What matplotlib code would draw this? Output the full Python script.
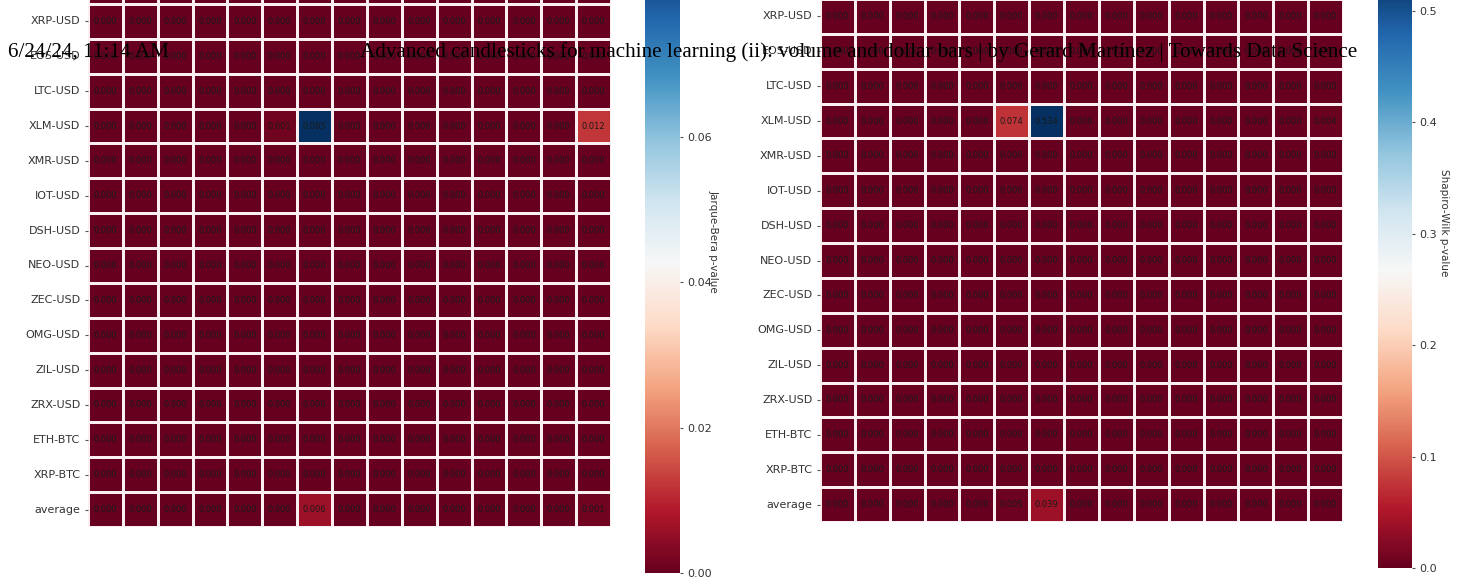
import numpy as np
import pandas as pd
import matplotlib
matplotlib.use('Agg')
import matplotlib.pyplot as plt
from matplotlib.ticker import MultipleLocator
import seaborn as sns

rows = ['BTC-USD', 'XRP-USD', 'EOS-USD', 'LTC-USD', 'XLM-USD', 'XMR-USD', 'IOT-USD',
        'DSH-USD', 'NEO-USD', 'ZEC-USD', 'OMG-USD', 'ZIL-USD', 'ZRX-USD',
        'ETH-BTC', 'XRP-BTC', 'average']
cols = [str(c) for c in range(1, 16)]

# Jarque-Bera p-values (most cells read 0.000)
jb_btc = [0.000] * 15
jb_zero = [0.000] * 15
jb_xlm = [0.000, 0.000, 0.000, 0.000, 0.000, 0.001, 0.085, 0.000, 0.000, 0.000,
          0.000, 0.000, 0.000, 0.000, 0.012]
jb_avg = [0.000, 0.000, 0.000, 0.000, 0.000, 0.000, 0.006, 0.000, 0.000, 0.000,
          0.000, 0.000, 0.000, 0.000, 0.001]

# Shapiro-Wilk p-values
sw_btc = [0.000] * 15
sw_zero = [0.000] * 15
sw_xlm = [0.000, 0.000, 0.000, 0.000, 0.000, 0.074, 0.534, 0.000, 0.000, 0.000,
          0.000, 0.000, 0.000, 0.000, 0.004]
sw_avg = [0.000, 0.000, 0.000, 0.000, 0.000, 0.005, 0.039, 0.000, 0.000, 0.000,
          0.000, 0.000, 0.000, 0.000, 0.000]

jb = pd.DataFrame([jb_btc, jb_zero, jb_zero, jb_zero, jb_xlm] + [jb_zero] * 10 + [jb_avg],
                  index=rows, columns=cols)
sw = pd.DataFrame([sw_btc, sw_zero, sw_zero, sw_zero, sw_xlm] + [sw_zero] * 10 + [sw_avg],
                  index=rows, columns=cols)

W, H = 1466, 582
fig = plt.figure(figsize=(W / 100, H / 100), dpi=100)


def px_box(x0, x1, ybot, ytop):
    return [x0 / W, (H - ybot) / H, (x1 - x0) / W, (ybot - ytop) / H]


n = len(rows)
cell = 523 / 15

# left heatmap
ax1 = fig.add_axes(px_box(88, 611, 527, 527 - n * cell))
cax1 = fig.add_axes(px_box(645, 680, 573, 573 - jb.values.max() * 7275))
# right heatmap
ax2 = fig.add_axes(px_box(820, 1343, 522, 522 - n * cell))
cax2 = fig.add_axes(px_box(1378, 1412, 568, 568 - sw.values.max() * 1114))

for ax, cax, df, lab, ly, step in [(ax1, cax1, jb, 'Jarque-Bera p-value', 0.536, 0.02),
                                    (ax2, cax2, sw, 'Shapiro-Wilk p-value', 0.58, 0.1)]:
    sns.heatmap(df, ax=ax, cbar_ax=cax, cmap='RdBu', linewidths=1.0, linecolor='#fbeff2',
                annot=True, fmt='.3f', annot_kws={'size': 6, 'color': '#1a1a1a'})
    ax.xaxis.tick_top()
    ax.set_xticklabels([])
    ax.tick_params(axis='x', length=0)
    ax.tick_params(axis='y', length=2, colors='#555555', labelsize=8, labelcolor='#333333')
    ax.set_yticklabels(rows, rotation=0)
    ax.set_xlabel('')
    ax.set_ylabel('')
    cax.yaxis.set_major_locator(MultipleLocator(step))
    cax.tick_params(labelsize=8, length=2, colors='#555555', labelcolor='#333333')
    cax.set_ylabel(lab, rotation=270, fontsize=7.5, color='#333333')
    cax.yaxis.set_label_coords(2.1, ly)

fig.text(8 / W, 1 - 52 / H, '6/24/24, 11:14 AM', family='Liberation Serif', fontsize=15.2,
         va='center', ha='left')
fig.text(859 / W, 1 - 52 / H,
         'Advanced candlesticks for machine learning (ii): volume and dollar bars | by Gerard Mart\u00ednez | Towards Data Science',
         family='Liberation Serif', fontsize=15.2, va='center', ha='center')

fig.savefig('out.png', dpi=100)
